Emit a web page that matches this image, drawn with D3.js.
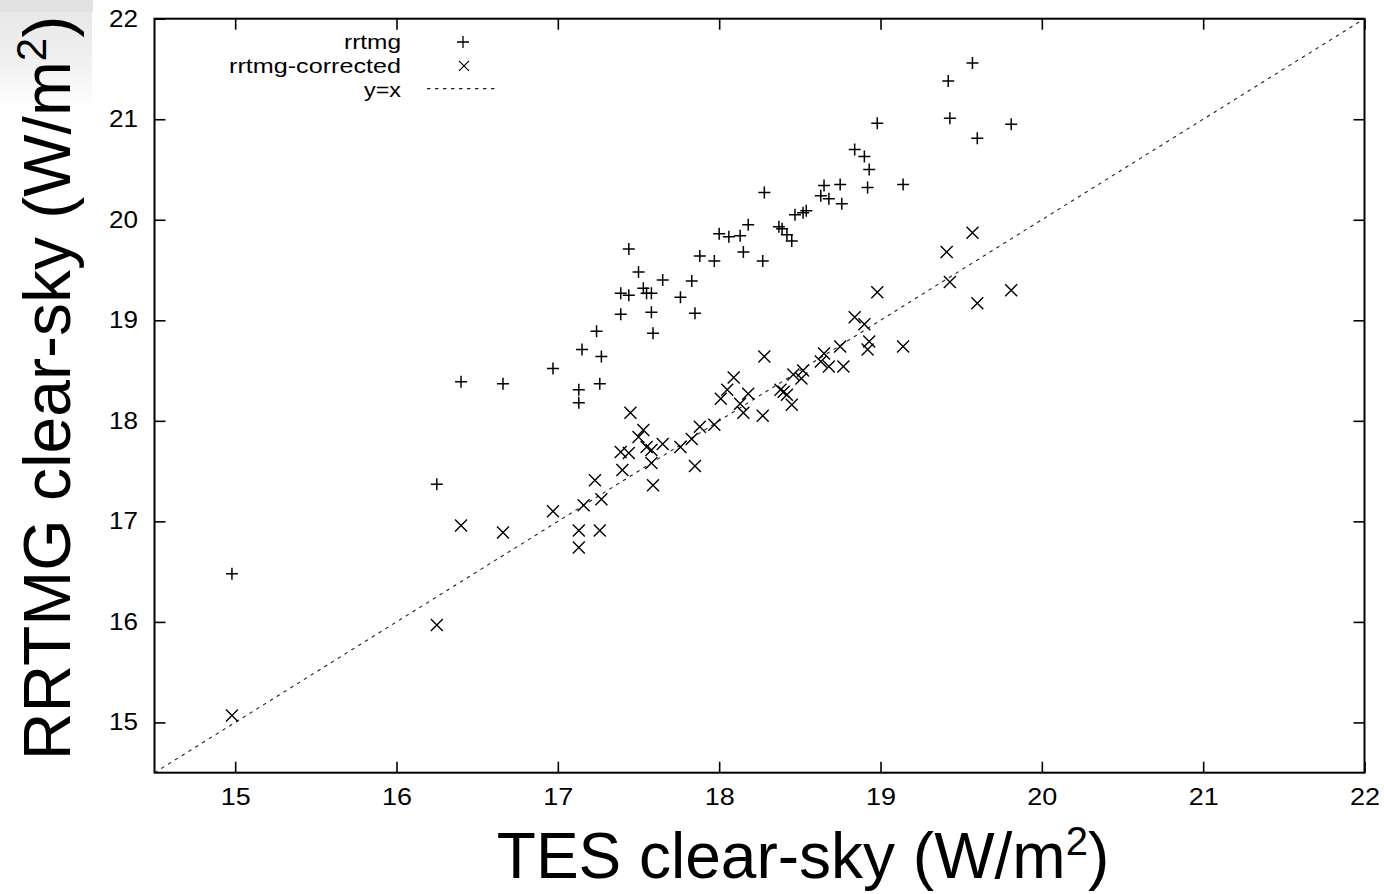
<!DOCTYPE html>
<html>
<head>
<meta charset="utf-8">
<script src="https://cdn.jsdelivr.net/npm/d3@7"></script>
<style>
  html, body { margin: 0; padding: 0; background: #fff; }
  svg { display: block; }
  text { font-family: "Liberation Sans", Arial, Helvetica, sans-serif; fill: #000; }
</style>
</head>
<body>
<svg id="chart" width="1384" height="894"></svg>
<script>
// Clear-sky flux: TES observation (x) vs RRTMG model (y), W/m^2
const rrtmgPoints = [
  [14.98, 16.48], [16.25, 17.37], [16.40, 18.39], [16.66, 18.37], [16.97, 18.52],
  [17.13, 18.31], [17.13, 18.18], [17.15, 18.71], [17.24, 18.89], [17.27, 18.64],
  [17.26, 18.37], [17.39, 19.06], [17.39, 19.27], [17.44, 19.25], [17.44, 19.71],
  [17.50, 19.48], [17.53, 19.32], [17.55, 19.27], [17.58, 19.27], [17.58, 19.08],
  [17.59, 18.87], [17.65, 19.40], [17.76, 19.23], [17.83, 19.39], [17.85, 19.07],
  [17.88, 19.64], [17.97, 19.59], [18.00, 19.86], [18.06, 19.83], [18.13, 19.84],
  [18.15, 19.68], [18.18, 19.95], [18.27, 19.59], [18.28, 20.27], [18.37, 19.93],
  [18.39, 19.91], [18.42, 19.85], [18.45, 19.79], [18.47, 20.05], [18.52, 20.07],
  [18.54, 20.09], [18.63, 20.24], [18.65, 20.34], [18.68, 20.21], [18.75, 20.35],
  [18.76, 20.16], [18.84, 20.70], [18.90, 20.63], [18.93, 20.50], [18.92, 20.32],
  [18.98, 20.96], [19.14, 20.35], [19.42, 21.38], [19.43, 21.01], [19.57, 21.56],
  [19.60, 20.81], [19.81, 20.95]
];

const correctedPoints = [
  [14.98, 15.07], [16.25, 15.97], [16.40, 16.96], [16.66, 16.89], [16.97, 17.10],
  [17.13, 16.91], [17.13, 16.74], [17.16, 17.16], [17.23, 17.41], [17.27, 17.22],
  [17.26, 16.91], [17.40, 17.51], [17.39, 17.69], [17.44, 17.68], [17.45, 18.08],
  [17.50, 17.84], [17.53, 17.91], [17.55, 17.74], [17.58, 17.71], [17.58, 17.58],
  [17.59, 17.36], [17.65, 17.77], [17.76, 17.74], [17.83, 17.82], [17.85, 17.55],
  [17.88, 17.94], [17.97, 17.96], [18.01, 18.22], [18.05, 18.31], [18.09, 18.43],
  [18.13, 18.17], [18.15, 18.08], [18.18, 18.27], [18.27, 18.05], [18.28, 18.64],
  [18.38, 18.31], [18.40, 18.29], [18.42, 18.26], [18.45, 18.16], [18.46, 18.46],
  [18.52, 18.50], [18.51, 18.42], [18.63, 18.59], [18.65, 18.67], [18.68, 18.54],
  [18.75, 18.74], [18.77, 18.54], [18.84, 19.03], [18.90, 18.96], [18.92, 18.71],
  [18.93, 18.79], [18.98, 19.28], [19.14, 18.74], [19.41, 19.68], [19.43, 19.38],
  [19.57, 19.87], [19.60, 19.17], [19.81, 19.30]
];

const xDomain = [14.5, 22];
const yDomain = [14.5, 22];
const xTicks = [15, 16, 17, 18, 19, 20, 21, 22];
const yTicks = [15, 16, 17, 18, 19, 20, 21, 22];
const legendLabels = ["rrtmg", "rrtmg-corrected", "y=x"];
const xTitle = "TES clear-sky (W/m";
const yTitle = "RRTMG clear-sky (W/m";

const svg = d3.select("#chart");

// faint grey patch in the upper-left corner
const defs = svg.append("defs");
const grad = defs.append("linearGradient")
  .attr("id", "cornerFade").attr("x1", 0).attr("y1", 0).attr("x2", 0).attr("y2", 1);
grad.append("stop").attr("offset", "0").attr("stop-color", "#e6e6e6");
grad.append("stop").attr("offset", "0.55").attr("stop-color", "#f0f0f0");
grad.append("stop").attr("offset", "1").attr("stop-color", "#ffffff");
svg.append("rect").attr("x", 0).attr("y", 0).attr("width", 92).attr("height", 110)
  .attr("fill", "url(#cornerFade)");
svg.append("rect").attr("x", 0).attr("y", 0).attr("width", 93).attr("height", 12)
  .attr("fill", "#e2e2e2");

const x = d3.scaleLinear().domain(xDomain).range([154.5, 1364.5]);
const y = d3.scaleLinear().domain(yDomain).range([772.7, 18.7]);

const [x0, x1] = x.range();
const [y0, y1] = y.range();
const tickLen = 11;

// bottom axis with labels, ticks pointing inward
const gx = svg.append("g").attr("transform", `translate(0,${y0})`)
  .call(d3.axisBottom(x).tickValues(xTicks).tickFormat(d3.format("d"))
    .tickSizeInner(-tickLen).tickSizeOuter(0).tickPadding(16));
gx.select(".domain").remove();
gx.selectAll(".tick line").attr("stroke", "#000").attr("stroke-width", 1.6);
gx.selectAll(".tick text").attr("font-size", 23).attr("fill", "#000")
  .attr("textLength", 30).attr("lengthAdjust", "spacingAndGlyphs");

// left axis with labels
const gy = svg.append("g").attr("transform", `translate(${x0},0)`)
  .call(d3.axisLeft(y).tickValues(yTicks).tickFormat(d3.format("d"))
    .tickSizeInner(-tickLen).tickSizeOuter(0).tickPadding(16.5));
gy.select(".domain").remove();
gy.selectAll(".tick line").attr("stroke", "#000").attr("stroke-width", 1.6);
gy.selectAll(".tick text").attr("font-size", 23).attr("fill", "#000")
  .attr("textLength", 29).attr("lengthAdjust", "spacingAndGlyphs");

// mirrored ticks on top and right, no labels
const gt = svg.append("g").attr("transform", `translate(0,${y1})`)
  .call(d3.axisTop(x).tickValues(xTicks).tickFormat("").tickSizeInner(-tickLen).tickSizeOuter(0));
gt.select(".domain").remove();
gt.selectAll(".tick line").attr("stroke", "#000").attr("stroke-width", 1.6);

const gr = svg.append("g").attr("transform", `translate(${x1},0)`)
  .call(d3.axisRight(y).tickValues(yTicks).tickFormat("").tickSizeInner(-tickLen).tickSizeOuter(0));
gr.select(".domain").remove();
gr.selectAll(".tick line").attr("stroke", "#000").attr("stroke-width", 1.6);

// plot frame
svg.append("rect")
  .attr("x", x0).attr("y", y1).attr("width", x1 - x0).attr("height", y0 - y1)
  .attr("fill", "none").attr("stroke", "#000").attr("stroke-width", 2);

// y = x reference line
const diag = d3.line().x(d => x(d)).y(d => y(d));
svg.append("path")
  .attr("d", diag(xDomain))
  .attr("fill", "none").attr("stroke", "#222").attr("stroke-width", 1.1)
  .attr("stroke-dasharray", "3.5,4.5");

// marker shapes
const plusPath = (s) => `M${-s},0H${s}M0,${-s}V${s}`;
const crossPath = (s) => `M${-s},${-s}L${s},${s}M${-s},${s}L${s},${-s}`;

svg.append("g").selectAll("path").data(rrtmgPoints).join("path")
  .attr("transform", d => `translate(${x(d[0])},${y(d[1])})`)
  .attr("d", plusPath(6))
  .attr("fill", "none").attr("stroke", "#000").attr("stroke-width", 1.5);

svg.append("g").selectAll("path").data(correctedPoints).join("path")
  .attr("transform", d => `translate(${x(d[0])},${y(d[1])})`)
  .attr("d", crossPath(6))
  .attr("fill", "none").attr("stroke", "#000").attr("stroke-width", 1.4);

// legend
const legendTextLen = [57, 172, 37];
const legend = svg.append("g");
legendLabels.forEach((label, i) => {
  const cy = 42 + i * 23.8;
  legend.append("text")
    .attr("x", 401).attr("y", cy + 7)
    .attr("text-anchor", "end").attr("font-size", 20)
    .attr("textLength", legendTextLen[i]).attr("lengthAdjust", "spacingAndGlyphs")
    .text(label);
  if (i === 0) {
    legend.append("path").attr("transform", `translate(463,${cy})`).attr("d", plusPath(6))
      .attr("fill", "none").attr("stroke", "#000").attr("stroke-width", 1.3);
  } else if (i === 1) {
    legend.append("path").attr("transform", `translate(464,${cy})`).attr("d", crossPath(5))
      .attr("fill", "none").attr("stroke", "#000").attr("stroke-width", 1.2);
  } else {
    legend.append("line").attr("x1", 427).attr("x2", 497).attr("y1", cy - 1).attr("y2", cy - 1)
      .attr("stroke", "#222").attr("stroke-width", 1.1).attr("stroke-dasharray", "3.5,4.5");
  }
});

// axis titles
const xt = svg.append("text")
  .attr("x", 803).attr("y", 878).attr("text-anchor", "middle").attr("font-size", 64);
xt.append("tspan").text(xTitle);
xt.append("tspan").attr("font-size", 40).attr("dy", -23).text("2");
xt.append("tspan").attr("dy", 23).text(")");

const yt = svg.append("text")
  .attr("transform", "translate(70,388) rotate(-90)")
  .attr("text-anchor", "middle").attr("font-size", 66);
yt.append("tspan").text(yTitle);
yt.append("tspan").attr("font-size", 42).attr("dy", -24).text("2");
yt.append("tspan").attr("dy", 24).text(")");
</script>
</body>
</html>
